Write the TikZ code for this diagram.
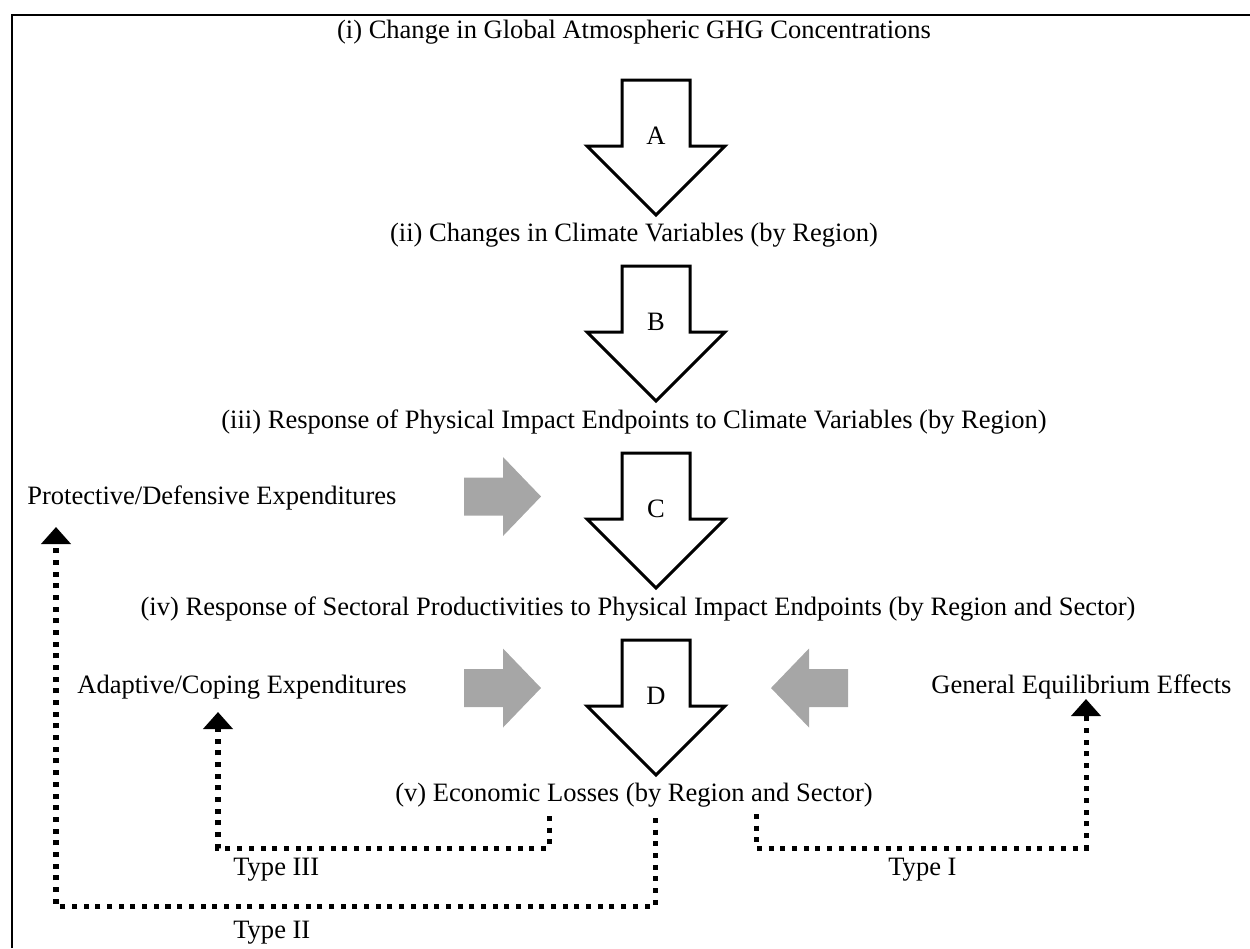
\documentclass[tikz,border=0pt]{standalone}
\usepackage{fontspec}
\setmainfont{Liberation Serif}
\usetikzlibrary{arrows.meta}

\begin{document}
\begin{tikzpicture}[
  x=0.02cm, y=-0.02cm,
  every node/.style={font=\fontsize{15.1}{18}\selectfont, inner sep=0pt},
  level/.style={anchor=base},
  side/.style={anchor=base west},
  tag/.style={anchor=base},
  frame/.style={line width=1.1pt},
  block/.style={draw, line width=1.7pt, fill=white, line join=miter},
  push/.style={fill=gray!70, draw=none},
  link/.style={line width=2.85pt, dash pattern=on 2.85pt off 3.8pt, -{Triangle[width=0.58cm, length=0.34cm]}},
  blockdown/.pic={\draw[block] (-34,0) -- (34,0) -- (34,66) -- (69,66) -- (0,135) -- (-69,66) -- (-34,66) -- cycle;},
  pushright/.pic={\fill[push] (0,-19) -- (39,-19) -- (39,-39.5) -- (77,0) -- (39,39.5) -- (39,19) -- (0,19) -- cycle;},
  pushleft/.pic={\fill[push] (0,-19) -- (-39,-19) -- (-39,-39.5) -- (-77,0) -- (-39,39.5) -- (-39,19) -- (0,19) -- cycle;}
  ]
  \useasboundingbox (0,0) rectangle (1250,948);
  % frame
  \draw[frame] (12,948) -- (12,15) -- (1250,15);

  % chain of levels
  \node[level] (ghg) at (634,38) {(i) Change in Global Atmospheric GHG Concentrations};
  \node[level] (climate) at (634,241) {(ii) Changes in Climate Variables (by Region)};
  \node[level] (physical) at (634,428) {(iii) Response of Physical Impact Endpoints to Climate Variables (by Region)};
  \node[level] (sector) at (638,615) {(iv) Response of Sectoral Productivities to Physical Impact Endpoints (by Region and Sector)};
  \node[level] (losses) at (634,801) {(v) Economic Losses (by Region and Sector)};

  % block arrows
  \pic at (656,80) {blockdown};
  \pic at (656,266) {blockdown};
  \pic at (656,453) {blockdown};
  \pic at (656,640) {blockdown};
  \node[tag] (stepA) at (656,144) {A};
  \node[tag] (stepB) at (656,330) {B};
  \node[tag] (stepC) at (656,517) {C};
  \node[tag] (stepD) at (656,704) {D};

  % side effects
  \node[side] (protect) at (27,504) {Protective/Defensive Expenditures};
  \node[side] (adapt) at (77,693) {Adaptive/Coping Expenditures};
  \node[side] (general) at (931,693) {General Equilibrium Effects};
  \pic at (464,496.5) {pushright};
  \pic at (464,688) {pushright};
  \pic at (848,688) {pushleft};

  % feedback types
  \coordinate (t1top) at (756,814);
  \coordinate (t1turn) at (1086,848);
  \coordinate (t1tip) at (1086,699);
  \coordinate (t2top) at (655,818);
  \coordinate (t2turn) at (56,906);
  \coordinate (t2tip) at (56,527);
  \coordinate (t3top) at (549,816);
  \coordinate (t3turn) at (218,848);
  \coordinate (t3tip) at (218,712);
  \draw[link] (t1top) |- (t1turn) -- (t1tip);
  \draw[link] (t2top) |- (t2turn) -- (t2tip);
  \draw[link] (t3top) |- (t3turn) -- (t3tip);
  \node[side] (typeI) at (888,875) {Type I};
  \node[side] (typeII) at (233,938) {Type II};
  \node[side] (typeIII) at (233,875) {Type III};
\end{tikzpicture}
\end{document}
